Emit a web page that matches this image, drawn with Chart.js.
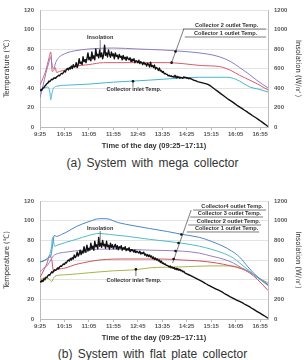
<!DOCTYPE html>
<html><head><meta charset="utf-8">
<script src="https://cdn.jsdelivr.net/npm/chart.js@4.4.1/dist/chart.umd.min.js"></script>
<style>
html,body{margin:0;padding:0;background:#fff;width:305px;height:360px;overflow:hidden}
.box{position:absolute;left:0;width:305px}
canvas{display:block}
.cap{position:absolute;left:0;width:305px;text-align:center;font-family:'Liberation Sans',Arial,sans-serif;font-size:12px;color:#333;word-spacing:2px;line-height:14px;white-space:nowrap}
</style></head><body>
<div class="box" style="top:0;height:152px"><canvas id="ca" width="305" height="152" style="width:305px;height:152px"></canvas></div>
<div class="cap" style="top:156px">(a) System with mega collector</div>
<div class="box" style="top:191px;height:153px"><canvas id="cb" width="305" height="153" style="width:305px;height:153px"></canvas></div>
<div class="cap" style="top:347px">(b) System with flat plate collector</div>
<script>
// ---- tick labels (minutes from 09:25) ----
const tickMinutes = [0, 50, 100, 150, 200, 250, 300, 350, 400, 450];
const timeLabels = ['9:25','10:15','11:05','11:55','12:45','13:35','14:25','15:15','16:05','16:55'];
const tempTicks = [0, 20, 40, 60, 80, 100, 120];
const insolTicks = [0, 200, 400, 600, 800, 1000, 1200];

// ---- (a) mega collector: [minute, value] ----
const insolationA = [[0,375],[2,385],[4,380],[6,400],[8,405],[10,420],[12,430],[14,445],[16,450],[18,470],[20,465],[22,480],[24,490],[26,485],[28,500],[30,505],[32,500],[34,515],[36,520],[38,530],[40,525],[42,540],[44,550],[46,545],[48,560],[50,575],[52,565],[54,590],[56,600],[58,585],[60,610],[62,595],[64,625],[66,600],[68,640],[70,615],[72,620],[74,660],[76,610],[78,640],[80,700],[82,650],[84,665],[86,640],[88,720],[90,670],[92,690],[94,660],[96,700],[98,760],[100,690],[102,715],[104,680],[106,770],[108,700],[110,730],[112,690],[114,800],[116,730],[118,745],[120,710],[122,790],[124,720],[126,760],[128,700],[130,740],[132,840],[134,735],[136,760],[138,720],[140,790],[142,745],[144,715],[146,770],[148,730],[150,750],[152,700],[154,760],[156,725],[158,735],[160,700],[162,745],[164,715],[166,725],[168,690],[170,735],[172,700],[174,715],[176,685],[178,720],[180,700],[182,690],[184,710],[186,675],[188,695],[190,680],[192,700],[194,660],[196,680],[198,675],[200,660],[202,685],[204,650],[206,670],[208,660],[210,640],[212,665],[214,645],[216,650],[218,625],[220,655],[222,640],[224,615],[226,665],[228,620],[230,630],[232,610],[234,635],[236,595],[238,610],[240,600],[242,580],[244,605],[246,575],[248,580],[250,560],[252,570],[254,545],[256,550],[258,540],[260,540],[262,525],[264,530],[266,520],[268,525],[270,515],[272,520],[274,510],[276,530],[278,505],[280,520],[282,510],[284,515],[286,500],[288,510],[290,505],[292,500],[294,515],[296,505],[298,510],[300,500],[302,505],[304,495],[306,500],[310,490],[314,480],[318,475],[322,465],[326,460],[330,455],[334,450],[338,445],[342,440],[346,430],[350,415],[354,400],[358,385],[362,370],[366,355],[370,340],[374,325],[378,310],[382,295],[386,280],[390,268],[394,255],[398,240],[402,225],[406,212],[410,198],[414,185],[418,172],[422,160],[426,145],[430,132],[434,118],[438,105],[442,92],[446,78],[450,64],[454,50],[458,35],[462,20],[466,5]];
const col2A = [[0,30],[6,42],[12,55],[18,66],[22,72],[25,63],[28,60],[32,66],[38,71],[50,75],[70,78],[100,80],[150,81],[200,80],[250,79],[306,77],[340,75],[367,72],[390,67],[408,61],[425,55],[443,48],[466,40]];
const col1A = [[0,43],[6,50],[12,58],[18,70],[22,77],[25,57],[28,58],[31,61],[34,56],[40,57],[55,59],[70,62],[100,64],[130,66],[180,66],[222,66],[260,66],[292,65],[330,63],[367,62],[390,58],[408,53],[429,48],[445,44],[466,38]];
const inletA = [[0,38],[8,40],[16,41],[20,36],[22,28],[25,36],[28,40],[36,42],[60,43],[100,44],[150,46],[222,48],[280,50],[326,51],[382,51],[400,49],[415,45],[429,41],[445,39],[466,36]];

// ---- (b) flat plate collector: [minute, value] ----
const insolationB = [[0,385],[2,375],[4,395],[6,380],[8,410],[10,400],[12,425],[14,420],[16,440],[18,450],[20,445],[22,465],[24,480],[26,470],[28,490],[30,500],[32,495],[34,505],[36,520],[38,510],[40,530],[42,540],[44,535],[46,550],[48,560],[50,555],[52,575],[54,570],[56,590],[58,600],[60,590],[62,615],[64,600],[66,625],[68,610],[70,650],[72,625],[74,640],[76,680],[78,640],[80,660],[82,700],[84,655],[86,690],[88,670],[90,735],[92,680],[94,700],[96,750],[98,690],[100,720],[102,700],[104,770],[106,715],[108,740],[110,700],[112,790],[114,735],[116,755],[118,715],[120,830],[122,740],[124,770],[126,730],[128,800],[130,745],[132,760],[134,720],[136,790],[138,735],[140,750],[142,710],[144,770],[146,730],[148,755],[150,715],[152,740],[154,760],[156,715],[158,745],[160,705],[162,735],[164,720],[166,745],[168,700],[170,725],[172,710],[174,735],[176,695],[178,715],[180,700],[182,725],[184,685],[186,705],[188,695],[190,700],[192,680],[194,700],[196,675],[198,690],[200,680],[202,670],[204,690],[206,660],[208,675],[210,665],[212,680],[214,650],[216,660],[218,640],[220,655],[222,635],[224,650],[226,630],[228,640],[230,615],[232,630],[234,605],[236,620],[238,600],[240,610],[242,590],[244,600],[246,575],[248,590],[250,565],[252,570],[254,555],[256,560],[258,545],[260,545],[262,540],[264,530],[266,540],[268,520],[270,530],[272,515],[274,525],[276,505],[278,515],[280,500],[282,510],[284,495],[286,505],[288,490],[290,495],[292,480],[294,485],[296,470],[300,460],[304,450],[308,440],[312,430],[316,420],[320,410],[324,400],[328,390],[332,380],[336,368],[340,356],[344,345],[348,335],[352,325],[356,315],[360,305],[364,295],[368,285],[372,275],[376,262],[380,250],[384,240],[388,228],[392,218],[396,208],[400,198],[404,188],[408,178],[412,168],[416,158],[420,145],[424,135],[428,125],[432,112],[436,100],[440,88],[444,76],[448,64],[452,52],[456,40],[460,28],[464,15],[466,10]];
const col4B = [[0,58],[8,59],[16,62],[22,64],[27,80],[29,85],[34,84],[44,86],[53,88],[74,94],[100,99],[121,102],[135,102],[160,98],[190,95],[224,92],[260,89],[291,86],[326,83],[350,79],[374,74],[392,69],[408,63],[425,53],[440,45],[455,39],[466,35]];
const col3B = [[0,58],[10,60],[18,63],[23,72],[26,83],[30,74],[35,75],[53,78],[74,81],[100,85],[121,87],[142,86],[180,84],[224,81],[260,79],[291,77],[326,74],[374,67],[395,62],[408,57],[428,49],[445,42],[466,35]];
const col2B = [[0,48],[8,52],[16,55],[22,60],[27,64],[33,66],[53,68],[87,70],[121,71],[160,71],[224,70],[291,69],[326,67],[350,64],[374,61],[395,57],[412,52],[428,48],[445,42],[466,34]];
const col1B = [[0,42],[8,50],[14,56],[20,65],[24,60],[28,48],[34,50],[53,52],[70,55],[87,57],[121,60],[180,61],[250,61],[291,60],[326,59],[360,57],[390,54],[412,51],[428,47],[445,40],[466,29]];
const inletB = [[0,40],[10,42],[18,41],[24,38],[28,42],[33,44],[53,45],[100,47],[150,49],[193,50],[224,52],[290,53],[350,54],[390,54],[410,52],[428,48],[445,42],[466,37]];

const FONT = "'Liberation Sans', Arial, sans-serif";
const NARROW = "'Liberation Sans Narrow', 'DejaVu Sans Condensed', 'Liberation Sans', sans-serif";

const notesPlugin = {
  id: 'notes',
  afterDatasetsDraw(chart, args, opts) {
    const xs = chart.scales.x, ys = chart.scales.y, ctx = chart.ctx;
    const X = v => xs.getPixelForValue(v), Y = v => ys.getPixelForValue(v);
    ctx.save();
    ctx.strokeStyle = '#444'; ctx.fillStyle = '#333'; ctx.lineWidth = 0.7;
    (opts.items || []).forEach(it => {
      if (it.t === 'text') {
        ctx.font = 'bold 5.6px ' + FONT;
        ctx.textAlign = it.align || 'center';
        ctx.textBaseline = 'middle';
        ctx.fillText(it.s, X(it.x), Y(it.y));
      } else if (it.t === 'line') {
        ctx.beginPath(); ctx.moveTo(X(it.x1), Y(it.y1)); ctx.lineTo(X(it.x2), Y(it.y2)); ctx.stroke();
      } else if (it.t === 'dot') {
        ctx.beginPath(); ctx.arc(X(it.x), Y(it.y), 1.3, 0, Math.PI * 2); ctx.fillStyle = '#111'; ctx.fill(); ctx.fillStyle = '#333';
      }
    });
    ctx.restore();
  }
};

function pts(arr) { return arr.map(p => ({ x: p[0], y: p[1] })); }

function makeChart(id, datasets, notes) {
  return new Chart(document.getElementById(id), {
    type: 'line',
    data: { datasets },
    plugins: [notesPlugin],
    options: {
      responsive: false, animation: false, devicePixelRatio: 1,
      layout: { padding: { top: 10, left: 0, right: 0, bottom: 0 } },
      elements: { point: { radius: 0 }, line: { borderJoinStyle: 'round' } },
      plugins: { legend: { display: false }, tooltip: { enabled: false }, notes: { items: notes } },
      scales: {
        x: {
          type: 'linear', min: 0, max: 466,
          afterBuildTicks: s => { s.ticks = tickMinutes.map(v => ({ value: v })); },
          afterFit: s => { s.height = 25; },
          ticks: { autoSkip: false, maxRotation: 0, padding: 1, color: '#555', font: { family: FONT, size: 6, weight: 'bold' },
                   callback: v => timeLabels[tickMinutes.indexOf(v)] },
          grid: { drawOnChartArea: false, drawTicks: true, tickLength: 3, color: '#bbb' },
          border: { color: '#bbb' },
          title: { display: true, text: 'Time of the day (09:25~17:11)', color: '#333', padding: { top: 0, bottom: 2 }, font: { family: FONT, size: 7.5, weight: 'bold' } }
        },
        y: {
          position: 'left', min: 0, max: 120,
          afterBuildTicks: s => { s.ticks = tempTicks.map(v => ({ value: v })); },
          afterFit: s => { s.width = 40; },
          ticks: { padding: 6, color: '#555', font: { family: FONT, size: 6, weight: 'bold' }, callback: v => String(v) },
          grid: { color: '#e3e3e3', drawTicks: false },
          border: { color: '#bbb' },
          title: { display: true, text: 'Temperature (℃)', color: '#333', padding: { top: 3, bottom: 0 }, font: { family: NARROW, size: 7.5 } }
        },
        y1: {
          position: 'right', min: 0, max: 1200,
          afterBuildTicks: s => { s.ticks = insolTicks.map(v => ({ value: v })); },
          afterFit: s => { s.width = 37; },
          ticks: { padding: 6, color: '#555', font: { family: FONT, size: 6, weight: 'bold' }, callback: v => String(v) },
          grid: { drawOnChartArea: false, drawTicks: false },
          border: { color: '#bbb' },
          title: { display: true, text: 'Insolation (W/㎡)', color: '#333', padding: { top: 3, bottom: 0 }, font: { family: NARROW, size: 7.5 } }
        }
      }
    }
  });
}

function ds(label, arr, color, axis, width, order) {
  return { label, data: pts(arr), borderColor: color, backgroundColor: color, borderWidth: width, yAxisID: axis,
           fill: false, order, cubicInterpolationMode: axis === 'y' ? 'monotone' : 'default', tension: 0 };
}

makeChart('ca', [
  ds('Insolation', insolationA, '#111', 'y1', 1.4, 0),
  ds('Collector 2 outlet Temp.', col2A, '#8c7cc4', 'y', 1, 1),
  ds('Collector 1 outlet Temp.', col1A, '#d95b6b', 'y', 1, 2),
  ds('Collector inlet Temp.', inletA, '#45b6d1', 'y', 1, 3)
], [
  { t: 'text', s: 'Insolation', x: 123, y: 92.3 },
  { t: 'line', x1: 123, y1: 89.5, x2: 123, y2: 78 },
  { t: 'text', s: 'Collector inlet Temp.', x: 192, y: 38 },
  { t: 'line', x1: 190, y1: 41, x2: 190, y2: 47 },
  { t: 'dot', x: 190, y: 47 },
  { t: 'text', s: 'Collector 2 outlet Temp.', x: 446, y: 104.6, align: 'right' },
  { t: 'line', x1: 292, y1: 100.5, x2: 462, y2: 100.5 },
  { t: 'text', s: 'Collector 1 outlet Temp.', x: 444, y: 96.4, align: 'right' },
  { t: 'line', x1: 296, y1: 92.3, x2: 462, y2: 92.3 },
  { t: 'line', x1: 294, y1: 100.5, x2: 269, y2: 66 },
  { t: 'dot', x: 277, y: 77.5 },
  { t: 'dot', x: 269, y: 66 }
]);

makeChart('cb', [
  ds('Insolation', insolationB, '#111', 'y1', 1.4, 0),
  ds('Collector4 outlet Temp.', col4B, '#4a88c8', 'y', 1, 1),
  ds('Collector 3 outlet Temp.', col3B, '#4dbdc6', 'y', 1, 2),
  ds('Collector 2 outlet Temp.', col2B, '#9a7fc3', 'y', 1, 3),
  ds('Collector 1 outlet Temp.', col1B, '#d2505f', 'y', 1, 4),
  ds('Collector inlet Temp.', inletB, '#a9b34a', 'y', 1, 5)
], [
  { t: 'text', s: 'Insolation', x: 123, y: 92.5 },
  { t: 'line', x1: 123, y1: 89.5, x2: 123, y2: 77 },
  { t: 'text', s: 'Collector inlet Temp.', x: 192, y: 39.7 },
  { t: 'line', x1: 196, y1: 43.5, x2: 196, y2: 50.5 },
  { t: 'dot', x: 196, y: 50.5 },
  { t: 'text', s: 'Collector4 outlet Temp.', x: 456, y: 114.9, align: 'right' },
  { t: 'line', x1: 313, y1: 110.8, x2: 462, y2: 110.8 },
  { t: 'text', s: 'Collector 3 outlet Temp.', x: 452, y: 107.8, align: 'right' },
  { t: 'line', x1: 307, y1: 103.7, x2: 456, y2: 103.7 },
  { t: 'text', s: 'Collector 2 outlet Temp.', x: 450, y: 99.7, align: 'right' },
  { t: 'line', x1: 303, y1: 95.6, x2: 452, y2: 95.6 },
  { t: 'text', s: 'Collector 1 outlet Temp.', x: 446, y: 92.5, align: 'right' },
  { t: 'line', x1: 300, y1: 88.5, x2: 448, y2: 88.5 },
  { t: 'line', x1: 309, y1: 110.8, x2: 271, y2: 57 },
  { t: 'dot', x: 289, y: 86 },
  { t: 'dot', x: 283, y: 77.3 },
  { t: 'dot', x: 277, y: 69.2 },
  { t: 'dot', x: 273, y: 61 }
]);
</script>
</body></html>
